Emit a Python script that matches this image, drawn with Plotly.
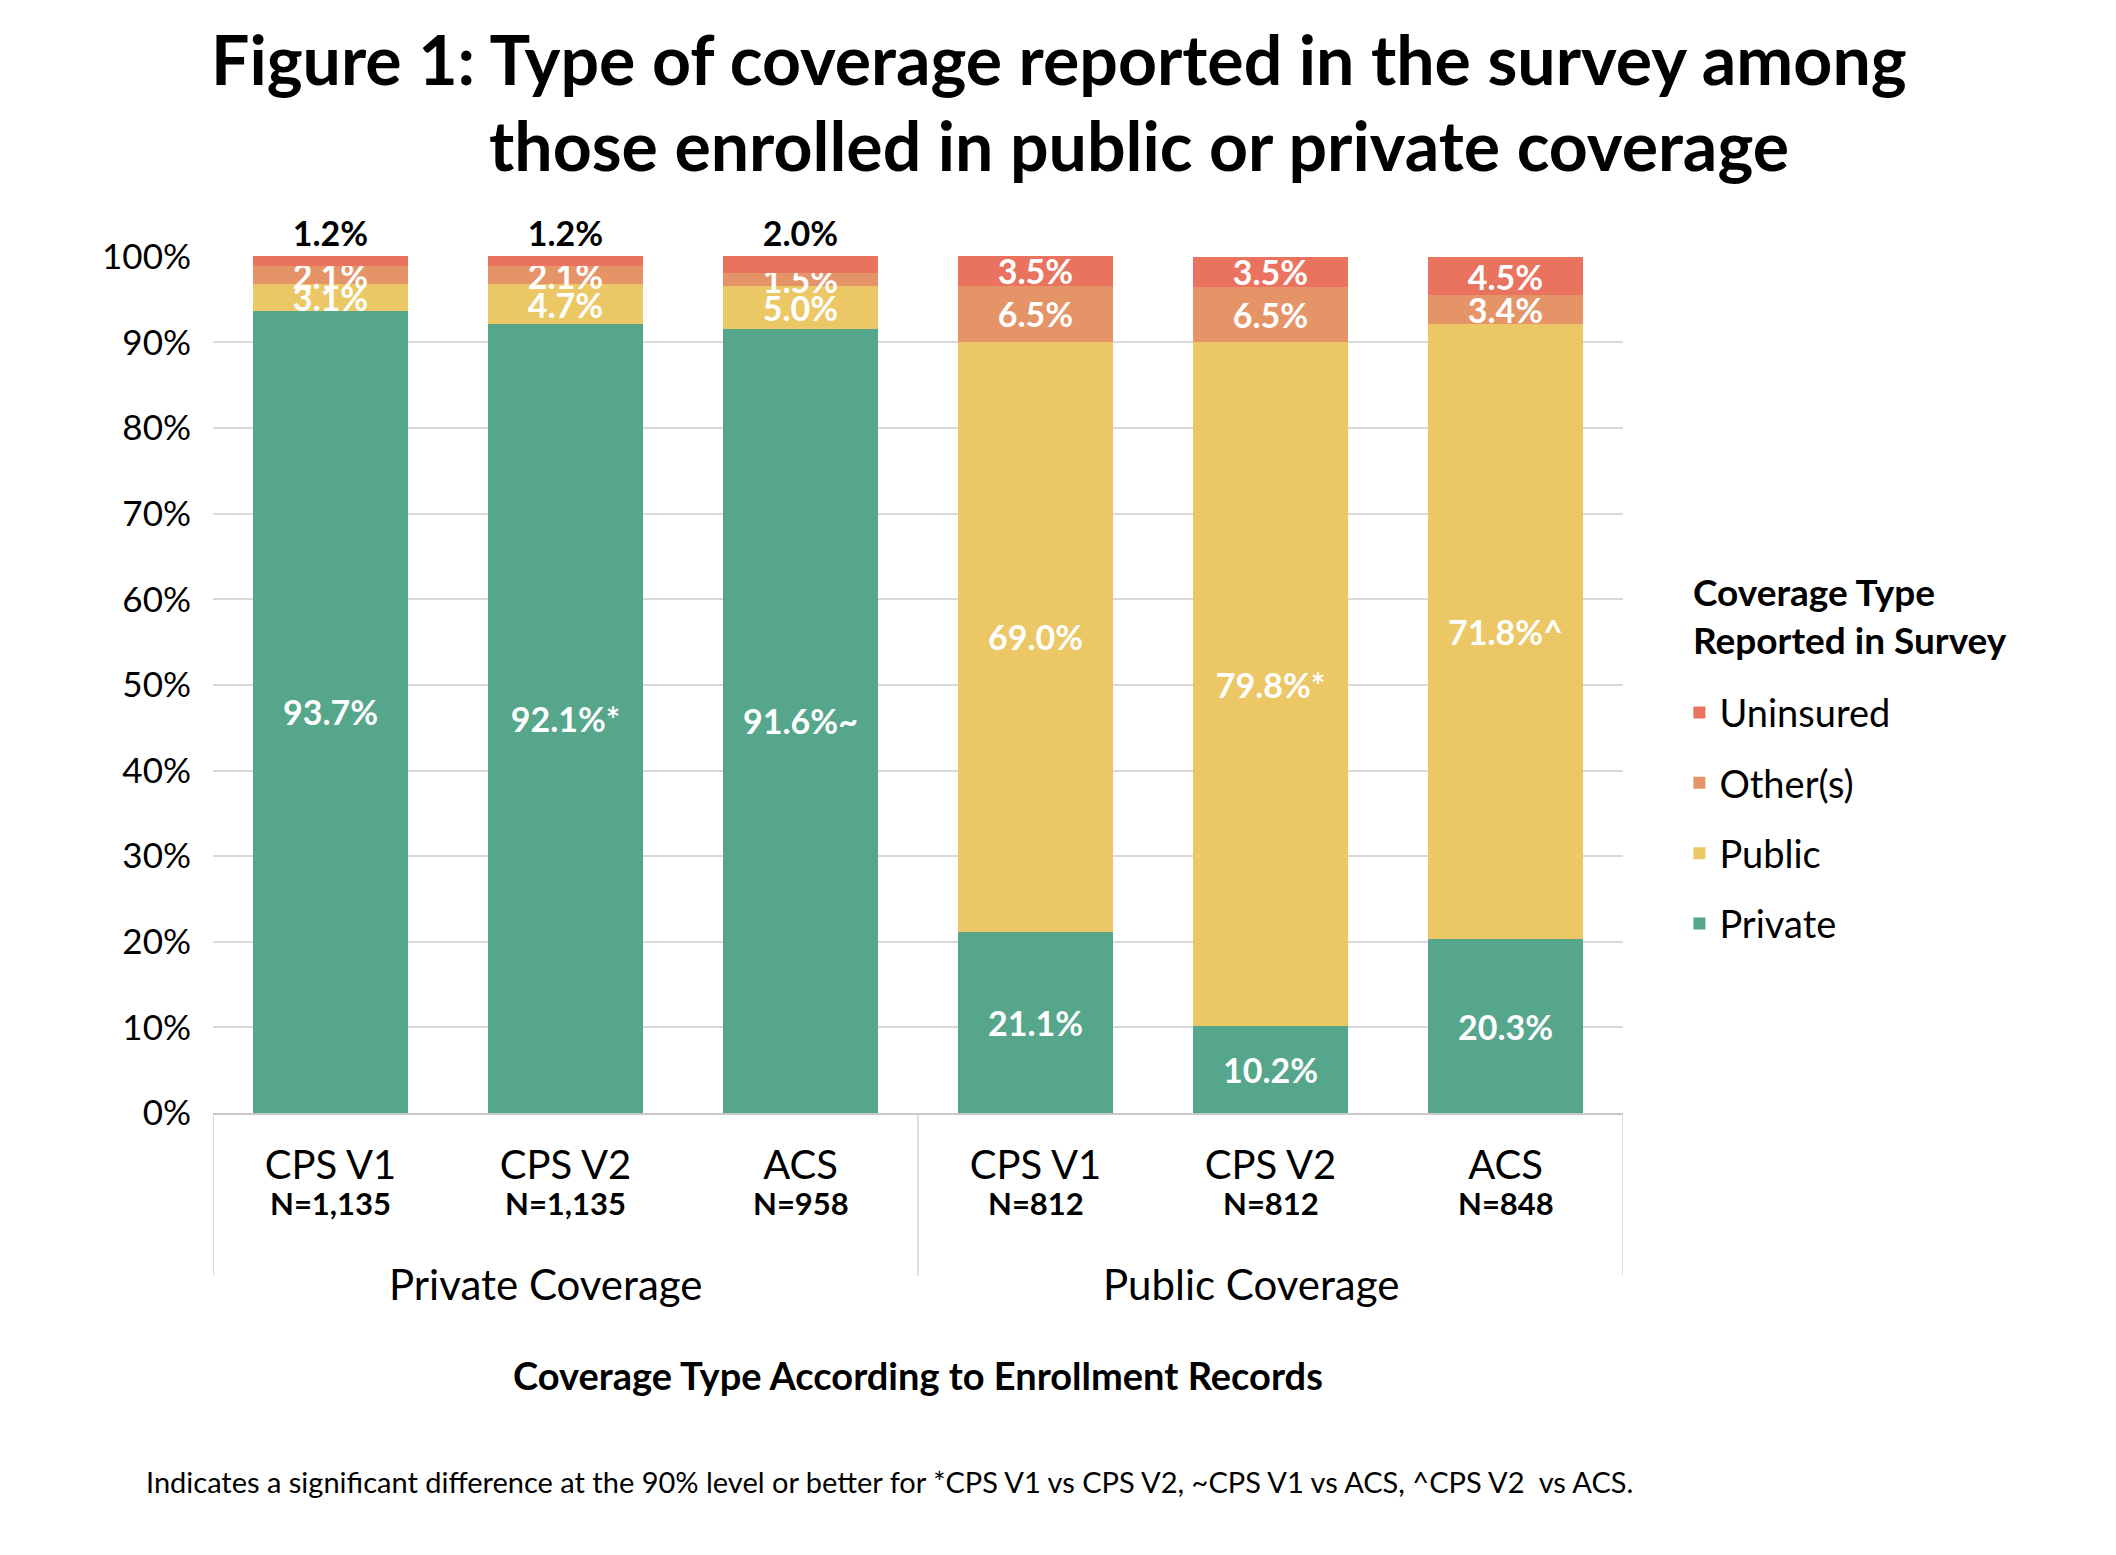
import plotly.graph_objects as go

# Coverage type according to enrollment records (x groups)
groups = ["Private Coverage", "Public Coverage"]
surveys = ["CPS V1", "CPS V2", "ACS", "CPS V1", "CPS V2", "ACS"]
sample_n = ["N=1,135", "N=1,135", "N=958", "N=812", "N=812", "N=848"]

# Coverage type reported in survey (percent)
private = [93.7, 92.1, 91.6, 21.1, 10.2, 20.3]
public = [3.1, 4.7, 5.0, 69.0, 79.8, 71.8]
others = [2.1, 2.1, 1.5, 6.5, 6.5, 3.4]
uninsured = [1.2, 1.2, 2.0, 3.5, 3.5, 4.5]

# significance markers
private_sig = ["", "*", "~", "", "", ""]
public_sig = ["", "", "", "", "*", "^"]

y_ticks = [0, 10, 20, 30, 40, 50, 60, 70, 80, 90, 100]
y_labels = ["0%", "10%", "20%", "30%", "40%", "50%", "60%", "70%", "80%", "90%", "100%"]

colors = {"Private": "#55A68B", "Public": "#EBC766",
          "Other(s)": "#E49466", "Uninsured": "#E9735E"}

FONT = "Lato"
cats = [f"{s} {n}" for s, n in zip(surveys, sample_n)]

fig = go.Figure()


def add_series(name, vals, sig, pos, txtcolor, rank):
    labels = [f"{v:.1f}%{m}" for v, m in zip(vals, sig)]
    fig.add_trace(go.Bar(
        x=cats, y=vals, name=name, legendgroup=name, legendrank=rank,
        marker=dict(color=colors[name], line=dict(width=0)),
        text=labels, textposition=pos, textangle=0,
        constraintext="none", insidetextanchor="middle", cliponaxis=False,
        textfont=dict(family=FONT, size=34, color=txtcolor, weight="bold"),
    ))


add_series("Private", private, private_sig, "inside", "white", 4)
add_series("Public", public, public_sig, "inside", "white", 3)
add_series("Other(s)", others, [""] * 6, "inside", "white", 2)
add_series("Uninsured", uninsured, [""] * 6,
           ["outside"] * 3 + ["inside"] * 3,
           ["black"] * 3 + ["white"] * 3, 1)

# sample sizes under category labels
for c, n in zip(cats, sample_n):
    fig.add_annotation(x=c, y=-0.105, xref="x", yref="paper", text=f"<b>{n}</b>",
                       showarrow=False, yanchor="middle",
                       font=dict(family=FONT, size=31, color="black"))

# group labels
for i, g in enumerate(groups):
    fig.add_annotation(x=cats[3 * i + 1], y=-0.199, xref="x", yref="paper", text=g,
                       showarrow=False, yanchor="middle", xshift=-20,
                       font=dict(family=FONT, size=42, color="black"))

# group dividers
for xv in [-0.5, 2.5, 5.5]:
    fig.add_shape(type="line", xref="x", yref="paper", x0=xv, x1=xv, y0=0, y1=-0.19,
                  line=dict(color="#D0D0D0", width=1.5))

# title lines
fig.add_annotation(x=0.600, y=1.231, xref="paper", yref="paper",
                   text="<b>Figure 1: Type of coverage reported in the survey among</b>",
                   showarrow=False, yanchor="middle",
                   font=dict(family=FONT, size=68, color="black"))
fig.add_annotation(x=0.657, y=1.130, xref="paper", yref="paper",
                   text="<b>those enrolled in public or private coverage</b>",
                   showarrow=False, yanchor="middle",
                   font=dict(family=FONT, size=68, color="black"))

# legend heading
fig.add_annotation(x=1.048, y=0.581, xref="paper", yref="paper",
                   text="<b>Coverage Type<br>Reported in Survey</b>",
                   showarrow=False, xanchor="left", yanchor="middle", align="left",
                   font=dict(family=FONT, size=37, color="black"))

# axis title
fig.add_annotation(x=0.5, y=-0.306, xref="paper", yref="paper",
                   text="<b>Coverage Type According to Enrollment Records</b>",
                   showarrow=False, yanchor="middle",
                   font=dict(family=FONT, size=38, color="black"))

# footnote
fig.add_annotation(x=-0.049, y=-0.43, xref="paper", yref="paper",
                   text="Indicates a significant difference at the 90% level or better for "
                        "*CPS V1 vs CPS V2, ~CPS V1 vs ACS, ^CPS V2  vs ACS.",
                   showarrow=False, xanchor="left", yanchor="middle",
                   font=dict(family=FONT, size=29, color="black"))

fig.update_layout(
    width=2116, height=1555,
    barmode="stack", bargap=0.34,
    paper_bgcolor="white", plot_bgcolor="white",
    margin=dict(l=205, r=501, t=248, b=450),
    font=dict(family=FONT, color="black"),
    showlegend=True,
    legend=dict(
        traceorder="grouped", tracegroupgap=18,
        font=dict(family=FONT, size=38, color="black"),
        x=1.040, xanchor="left", y=0.344, yanchor="middle",
        itemwidth=30,
    ),
)

fig.update_xaxes(
    type="category", tickvals=cats, ticktext=surveys,
    range=[-0.5, 5.5],
    tickfont=dict(family=FONT, size=40, color="black"),
    ticks="outside", ticklen=16, tickcolor="rgba(0,0,0,0)",
    showline=True, linecolor="#C8C8C8", linewidth=2,
    showgrid=False,
)
fig.update_yaxes(
    range=[0, 100.1], tickmode="array", tickvals=y_ticks, ticktext=y_labels,
    tickfont=dict(family=FONT, size=35, color="black"),
    ticks="outside", ticklen=14, tickcolor="rgba(0,0,0,0)",
    showgrid=True, gridcolor="#D9D9D9", gridwidth=1.5,
    zeroline=False, showline=False,
)

fig.write_html("out.html")
